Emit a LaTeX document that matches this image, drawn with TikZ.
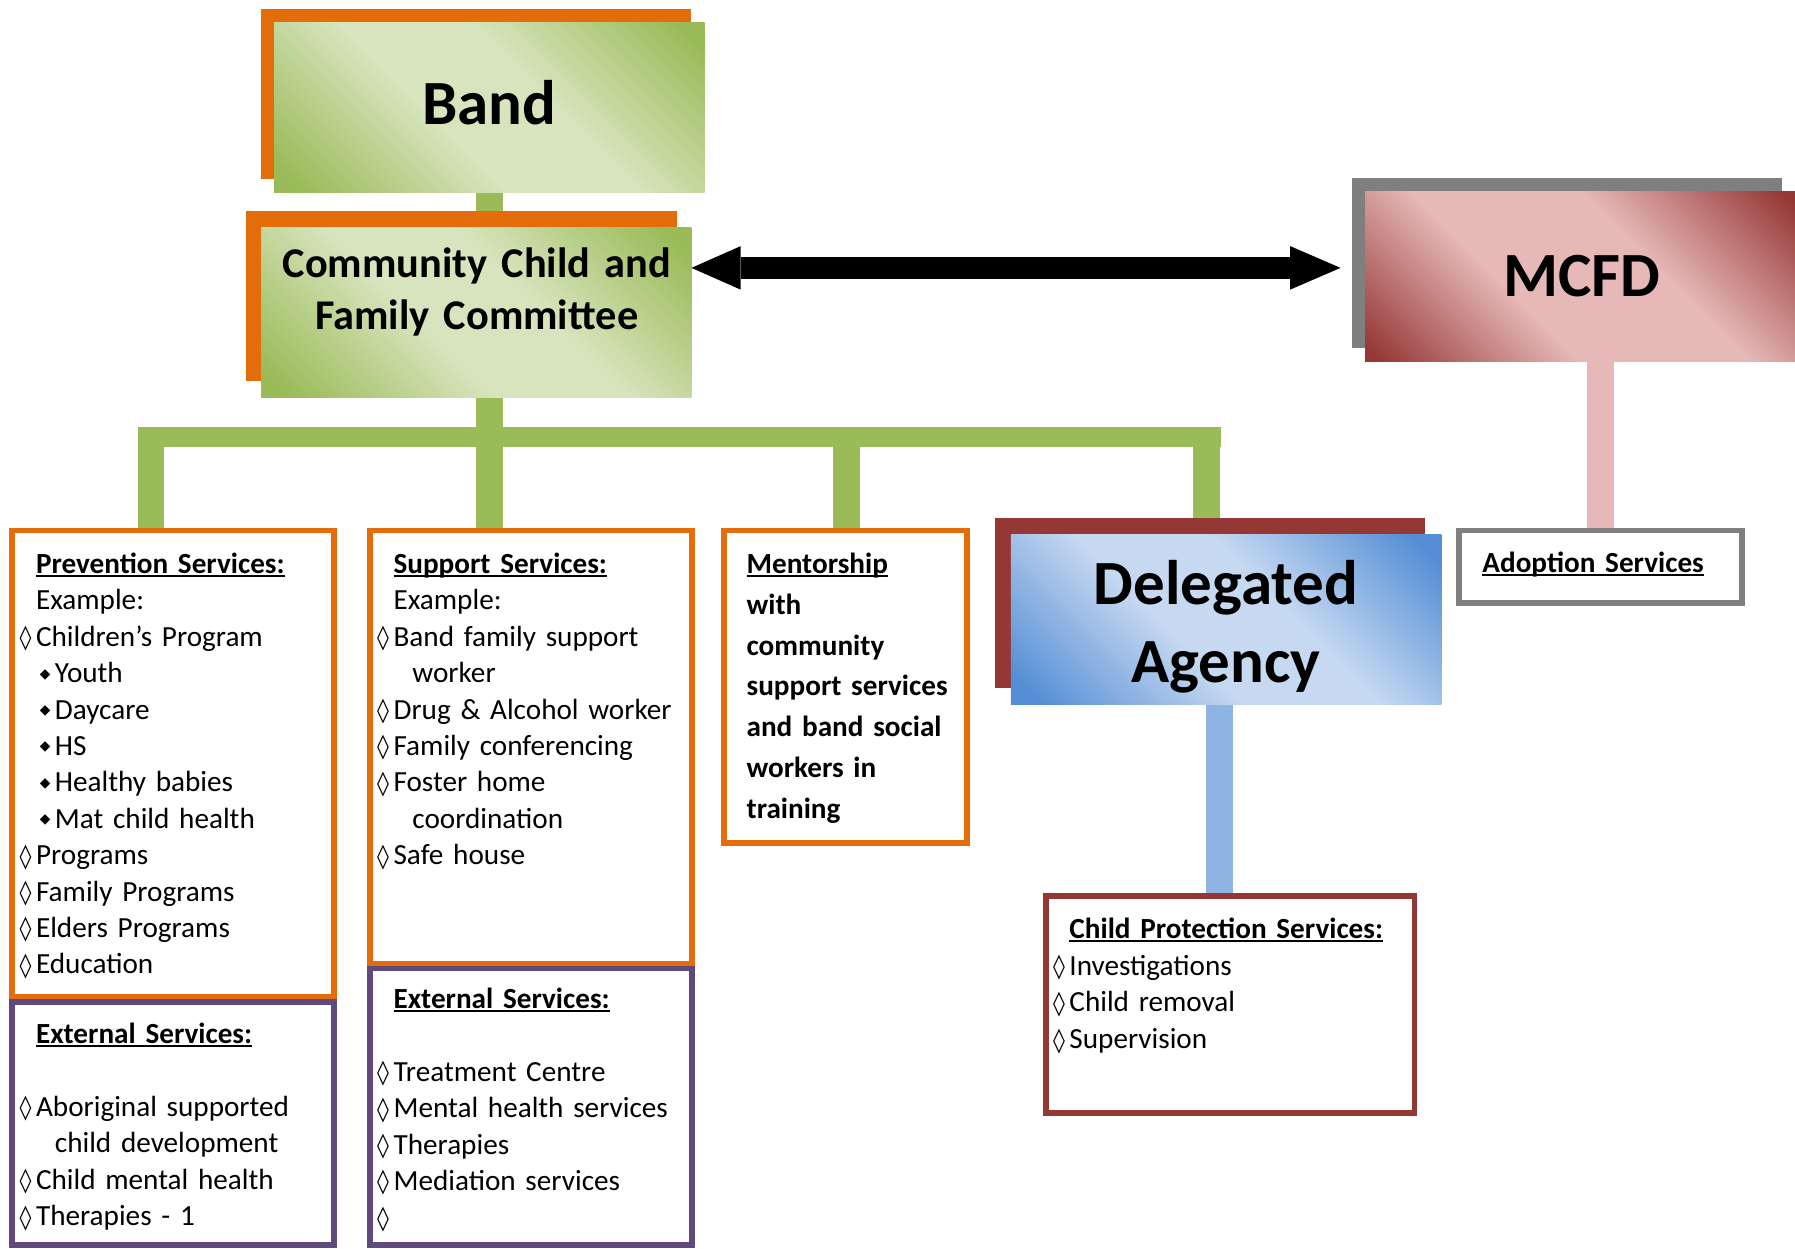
\documentclass[tikz,border=0pt]{standalone}
\usepackage{fontspec}
\setmainfont[WordSpace=0.72]{Carlito}
\newfontfamily\djv{DejaVu Sans}
\usetikzlibrary{arrows.meta,calc,backgrounds}
\definecolor{orng}{HTML}{E46C0A}
\definecolor{gdk}{HTML}{9BBB59}
\definecolor{glt}{HTML}{D7E4BD}
\definecolor{gry}{HTML}{7F7F7F}
\definecolor{rdk}{HTML}{953735}
\definecolor{rlt}{HTML}{E6B9B8}
\definecolor{bdk}{HTML}{558ED5}
\definecolor{blt}{HTML}{C6D9F1}
\definecolor{bcon}{HTML}{8EB4E3}
\definecolor{prp}{HTML}{604A7B}
\pgfdeclareverticalshading{gshade}{100bp}{color(0bp)=(gdk); color(18bp)=(gdk); color(42bp)=(glt); color(58bp)=(glt); color(82bp)=(gdk); color(100bp)=(gdk)}
\pgfdeclareverticalshading{rshade}{100bp}{color(0bp)=(rdk); color(16bp)=(rdk); color(40bp)=(rlt); color(60bp)=(rlt); color(84bp)=(rdk); color(100bp)=(rdk)}
\pgfdeclareverticalshading{bshade}{100bp}{color(0bp)=(bdk); color(18bp)=(bdk); color(42bp)=(blt); color(58bp)=(blt); color(82bp)=(bdk); color(100bp)=(bdk)}
\newsavebox\ulbox
\newcommand\uln[1]{\leavevmode\sbox\ulbox{#1}\rlap{\rule[-3pt]{\wd\ulbox}{1.7pt}}\usebox\ulbox}
\newcommand\dm{\leavevmode\llap{\raisebox{0.5pt}{\djv\fontsize{21}{21}\selectfont ◊}\hspace{4pt}}}
\newcommand\sdm{\leavevmode\hspace*{16.5pt}\llap{\raisebox{4pt}{\djv\fontsize{12}{12}\selectfont ◆}\hspace{4pt}}}
\newcommand\ind{\leavevmode\hspace*{16.5pt}}
\begin{document}
\begin{tikzpicture}[x=1pt,y=-1pt,
  plate/.style={inner sep=0pt, outer sep=0pt, minimum width=376pt, minimum height=148.5pt, anchor=north west},
  frame/.style={inner sep=0pt, outer sep=0pt, line width=5pt, anchor=north west},
  titlef/.style={font=\fontsize{55}{68}\selectfont\bfseries, inner sep=0pt},
  body/.style={font=\fontsize{25.5}{31.8}\selectfont, inner sep=0pt, anchor=base west, text width=300pt, align=left},
  gbar/.style={draw=gdk, line width=23pt},
  gbarh/.style={draw=gdk, line width=17.5pt},
  pbar/.style={draw=rlt, line width=24pt},
  bbar/.style={draw=bcon, line width=23.5pt},
  dblarrow/.style={line width=19.2pt, {Triangle[length=43pt,width=38pt,line width=0pt]}-{Triangle[length=44pt,width=38pt,line width=0pt]}}
]
\useasboundingbox (0,0) rectangle (1568,1091);

% title plates
\node[plate, fill=orng] (bandB) at (228,8) {};
\node[plate, shade, shading=gshade, shading angle=-45] (bandF) at (239.5,19.5) {};
\node[plate, fill=orng] (ccfcB) at (215,184.5) {};
\node[plate, shade, shading=gshade, shading angle=-45] (ccfcF) at (228,198.3) {};
\node[plate, fill=gry] (mcfdB) at (1181,155.5) {};
\node[plate, shade, shading=rshade, shading angle=-45] (mcfdF) at (1192.5,167) {};
\node[plate, fill=rdk] (delegB) at (869,452.6) {};
\node[plate, shade, shading=bshade, shading angle=-45] (delegF) at (883,466.5) {};

\node[titlef, anchor=base] (bandT) at (427.5,109) {Band};
\node[font=\fontsize{37}{45.5}\selectfont\bfseries, inner sep=0pt, text width=376pt, align=center, anchor=base] (ccfcT) at (416.5,242) {Community Child and\\Family Committee};
\node[titlef, anchor=base] (mcfdT) at (1382,259) {MCFD};
\node[titlef, text width=376pt, align=center, anchor=base] (delegT) at (1071,527.8) {Delegated\\Agency};

% framed boxes
\node[frame, draw=orng, minimum width=281pt, minimum height=407.5pt] (prev) at (10.5,463.5) {};
\node[frame, draw=prp, minimum width=281pt, minimum height=212pt] (prevExt) at (10.5,875.5) {};
\node[frame, draw=orng, minimum width=281pt, minimum height=378.5pt] (supp) at (323.5,463.5) {};
\node[frame, draw=prp, minimum width=281pt, minimum height=241.5pt] (suppExt) at (323.5,846) {};
\node[frame, draw=orng, minimum width=212pt, minimum height=273pt] (ment) at (632.5,463.5) {};
\node[frame, draw=rdk, minimum width=322pt, minimum height=190pt] (cps) at (913.5,782.5) {};
\node[frame, draw=gry, minimum width=247pt, minimum height=63pt] (adopt) at (1274.5,463.5) {};

% texts
\node[body] (prevTxt) at (31.3,501) {\textbf{\uln{Prevention Services:}}\\
Example:\\
\dm Children’s Program\\
\sdm Youth\\
\sdm Daycare\\
\sdm HS\\
\sdm Healthy babies\\
\sdm Mat child health\\
\dm Programs\\
\dm Family Programs\\
\dm Elders Programs\\
\dm Education};
\node[body] (prevExtTxt) at (31.3,911.7) {\textbf{\uln{External Services:}}\\
\mbox{}\\
\dm Aboriginal supported\\
\ind child development\\
\dm Child mental health\\
\dm Therapies - 1};
\node[body] (suppTxt) at (343.6,501) {\textbf{\uln{Support Services:}}\\
Example:\\
\dm Band family support\\
\ind worker\\
\dm Drug \& Alcohol worker\\
\dm Family conferencing\\
\dm Foster home\\
\ind coordination\\
\dm Safe house};
\node[body] (suppExtTxt) at (343.6,881) {\textbf{\uln{External Services:}}\\
\mbox{}\\
\dm Treatment Centre\\
\dm Mental health services\\
\dm Therapies\\
\dm Mediation services\\
\dm\mbox{}};
\node[body, font=\fontsize{25.5}{35.6}\selectfont\bfseries] (mentTxt) at (652,501) {\uln{Mentorship}\\
with\\
community\\
support services\\
and band social\\
workers in\\
training};
\node[body, font=\fontsize{25.5}{32.2}\selectfont] (cpsTxt) at (934,819.5) {\textbf{\uln{Child Protection Services:}}\\
\dm Investigations\\
\dm Child removal\\
\dm Supervision};
\node[body] (adoptTxt) at (1294.7,500) {\textbf{\uln{Adoption Services}}};

% connectors
\coordinate (d1) at (131.7,381.7);
\coordinate (d3) at (739.5,381.7);
\coordinate (d4) at (1054,381.7);
\coordinate (bx) at (1065.3,0);
\coordinate (ay) at (0,234);
\begin{scope}[on background layer]
\draw[gbar] (bandF.south) -- (bandF.south |- ccfcB.north);
\draw[gbar] (bandF.south |- ccfcF.south) -- (bandF.south |- supp.north);
\draw[gbarh] ([xshift=-11.5pt]d1) -- ([xshift=12.5pt]d4);
\draw[gbar] ([yshift=8.75pt]d1) -- (d1 |- prev.north);
\draw[gbar] ([yshift=8.75pt]d3) -- (d3 |- ment.north);
\draw[gbar] ([yshift=8.75pt]d4) -- (d4 |- delegB.north);
\draw[pbar] (adopt.north |- mcfdF.south) -- (adopt.north);
\draw[bbar] (bx |- delegF.south) -- (bx |- cps.north);
\end{scope}
\draw[dblarrow, shorten >=10pt] (ay -| ccfcF.east) -- (ay -| mcfdB.west);
\end{tikzpicture}
\end{document}
